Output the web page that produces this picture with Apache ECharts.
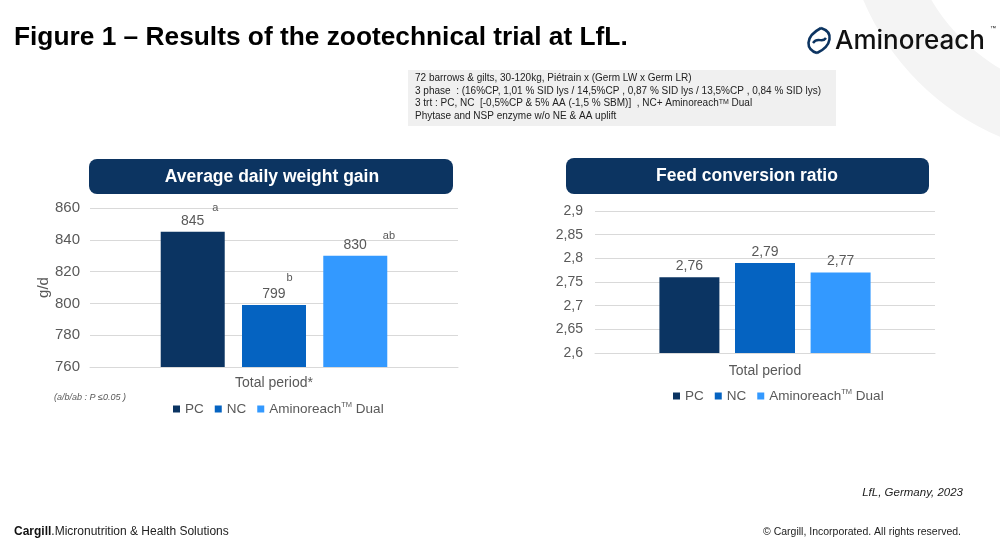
<!DOCTYPE html>
<html>
<head>
<meta charset="utf-8">
<script src="https://cdn.jsdelivr.net/npm/echarts@6/dist/echarts.min.js"></script>
<style>
html,body{margin:0;padding:0;background:#fff;}
#c{width:1000px;height:559px;}
</style>
</head>
<body>
<div id="c"></div>
<script>
// ---- data ----
const seriesNames = ['PC', 'NC', 'Aminoreach™ Dual'];
const adgCategories = ['Total period*'];
const adgValues = [845, 799, 830];
const adgLetters = ['a', 'b', 'ab'];
const adgTicks = { min: 760, max: 860, interval: 20 };
const fcrCategories = ['Total period'];
const fcrValues = [2.76, 2.79, 2.77];
const fcrTicks = { min: 2.6, max: 2.9, interval: 0.05 };
const infoLines = [
  '72 barrows & gilts, 30-120kg, Piétrain x (Germ LW x Germ LR)',
  '3 phase  : (16%CP, 1,01 % SID lys / 14,5%CP , 0,87 % SID lys / 13,5%CP , 0,84 % SID lys)',
  '3 trt : PC, NC  [-0,5%CP & 5% AA (-1,5 % SBM)]  , NC+ Aminoreach{sup|TM} Dual',
  'Phytase and NSP enzyme w/o NE & AA uplift'
];

// ---- styles ----
const colors = ['#0b3462', '#0563c1', '#3399ff'];
const banner = '#0c3461';
const grey = '#595959';
const FONT = '"Liberation Sans", Arial, sans-serif';
const letterGap = [8, 1, 16];
const letterRise = [14.5, 17.5, 10.5];
const letterW = [6, 6, 12];

const chart = echarts.init(document.getElementById('c'));
const comma = v => String(v).replace('.', ',');
const tmFmt = n => n.replace('™', '{sup|TM}');

const series = [];
seriesNames.forEach((name, i) => {
  series.push({
    type: 'bar', name, xAxisIndex: 0, yAxisIndex: 0,
    data: [adgValues[i]],
    barWidth: 64, barGap: '27%',
    itemStyle: { color: colors[i] },
    label: {
      show: true, position: 'top', distance: 4,
      offset: [(letterGap[i] + letterW[i]) / 2, 0],
      formatter: p => '{v|' + comma(p.value) + '}{s|' + adgLetters[i] + '}',
      rich: {
        v: { fontSize: 14, color: grey, fontFamily: FONT, verticalAlign: 'bottom', lineHeight: 16 },
        s: { fontSize: 11, color: grey, fontFamily: FONT, verticalAlign: 'bottom', padding: [0, 0, letterRise[i], letterGap[i]] }
      }
    }
  });
});
seriesNames.forEach((name, i) => {
  series.push({
    type: 'bar', name, xAxisIndex: 1, yAxisIndex: 1,
    data: [fcrValues[i]],
    barWidth: 60, barGap: '26%',
    itemStyle: { color: colors[i] },
    label: {
      show: true, position: 'top', distance: 4,
      formatter: p => comma(p.value),
      fontSize: 14, color: grey, fontFamily: FONT
    }
  });
});

const legendCommon = {
  data: seriesNames,
  itemWidth: 7, itemHeight: 7, itemGap: 11,
  icon: 'rect',
  formatter: tmFmt,
  textStyle: {
    fontSize: 13.5, color: grey, fontFamily: FONT,
    rich: { sup: { fontSize: 7.5, color: grey, fontFamily: FONT, verticalAlign: 'bottom', padding: [0, 0, 8, 0] } }
  },
  selectedMode: false
};

const option = {
  animation: false,
  textStyle: { fontFamily: FONT },
  color: colors,
  legend: [
    Object.assign({ left: 168, top: 396 }, legendCommon),
    Object.assign({ left: 668, top: 383 }, legendCommon)
  ],
  grid: [
    { left: 90, right: 542, top: 208, bottom: 192 },
    { left: 595, right: 65, top: 211, bottom: 206 }
  ],
  xAxis: [
    { type: 'category', gridIndex: 0, data: adgCategories,
      axisLine: { lineStyle: { color: '#d9d9d9' } }, axisTick: { show: false },
      axisLabel: { fontSize: 14, color: grey, margin: 9 } },
    { type: 'category', gridIndex: 1, data: fcrCategories,
      axisLine: { lineStyle: { color: '#d9d9d9' } }, axisTick: { show: false },
      axisLabel: { fontSize: 14, color: grey, margin: 11 } }
  ],
  yAxis: [
    { type: 'value', gridIndex: 0, min: adgTicks.min, max: adgTicks.max, interval: adgTicks.interval,
      name: 'g/d', nameLocation: 'middle', nameGap: 33, nameRotate: 90,
      nameTextStyle: { fontSize: 15, color: grey },
      axisLabel: { fontSize: 15, color: grey, margin: 10 },
      splitLine: { lineStyle: { color: '#d9d9d9' } } },
    { type: 'value', gridIndex: 1, min: fcrTicks.min, max: fcrTicks.max, interval: fcrTicks.interval,
      axisLabel: { fontSize: 14, color: grey, margin: 12, formatter: v => comma(+v.toFixed(2)) },
      splitLine: { lineStyle: { color: '#d9d9d9' } } }
  ],
  series,
  graphic: [
    // background arc
    { type: 'ring', z: -10, silent: true, shape: { cx: 1100, cy: -100, r: 257, r0: 196 }, style: { fill: '#f4f4f4' } },
    // main title
    { type: 'text', x: 14, y: 38, style: { text: 'Figure 1 – Results of the zootechnical trial at LfL.', fontSize: 26.3, fontWeight: 'bold', fill: '#000', fontFamily: FONT, verticalAlign: 'middle' } },
    // logo icon
    { type: 'bezierCurve', shape: { x1: 821, y1: 28, x2: 817, y2: 53, cpx1: 804, cpy1: 37, cpx2: 806, cpy2: 50 }, style: { stroke: '#0c3461', lineWidth: 2.6, fill: null } },
    { type: 'bezierCurve', shape: { x1: 821, y1: 28, x2: 817, y2: 53, cpx1: 834, cpy1: 32, cpx2: 832, cpy2: 46 }, style: { stroke: '#0c3461', lineWidth: 2.6, fill: null } },
    { type: 'bezierCurve', shape: { x1: 813, y1: 43, x2: 826, y2: 38, cpx1: 818, cpy1: 36, cpx2: 822, cpy2: 44 }, style: { stroke: '#0c3461', lineWidth: 2.4, fill: null } },
    { type: 'text', x: 835, y: 41, style: { text: 'Aminoreach', fontSize: 26, fontWeight: 500, fill: '#111', verticalAlign: 'middle', fontFamily: 'Inter, "Liberation Sans", sans-serif' } },
    { type: 'text', x: 990, y: 28, style: { text: '™', fontSize: 6, fill: '#111', verticalAlign: 'middle' } },
    // info box
    { type: 'rect', shape: { x: 408, y: 70, width: 428, height: 56 }, style: { fill: '#f0f0f0' } },
    { type: 'text', x: 415, y: 72, style: {
      text: infoLines.join('\n'), fontSize: 10, lineHeight: 12.6, fill: '#222', fontFamily: FONT,
      rich: { sup: { fontSize: 7, fill: '#222', verticalAlign: 'bottom', padding: [0, 0, 4, 0], lineHeight: 12.6 } } } },
    // banners
    { type: 'rect', shape: { x: 89, y: 159, width: 364, height: 35, r: 8 }, style: { fill: banner } },
    { type: 'text', x: 272, y: 177, style: { text: 'Average daily weight gain', fontSize: 17.5, fontWeight: 'bold', fill: '#fff', align: 'center', verticalAlign: 'middle', fontFamily: FONT } },
    { type: 'rect', shape: { x: 566, y: 158, width: 363, height: 36, r: 8 }, style: { fill: banner } },
    { type: 'text', x: 747, y: 176, style: { text: 'Feed conversion ratio', fontSize: 17.5, fontWeight: 'bold', fill: '#fff', align: 'center', verticalAlign: 'middle', fontFamily: FONT } },
    // note
    { type: 'text', x: 54, y: 397, style: { text: '(a/b/ab : P ≤0.05 )', fontSize: 9, fontStyle: 'italic', fill: grey, fontFamily: FONT, verticalAlign: 'middle' } },
    // footer
    { type: 'text', x: 963, y: 493, style: { text: 'LfL, Germany, 2023', fontSize: 11.5, fontStyle: 'italic', fill: '#222', align: 'right', verticalAlign: 'middle', fontFamily: FONT } },
    { type: 'text', x: 14, y: 532, style: { text: '{b|Cargill}.Micronutrition & Health Solutions', fontSize: 12, fill: '#222', verticalAlign: 'middle', fontFamily: FONT,
      rich: { b: { fontSize: 12, fontWeight: 'bold', fill: '#111', fontFamily: FONT } } } },
    { type: 'text', x: 961, y: 532, style: { text: '© Cargill, Incorporated. All rights reserved.', fontSize: 10.5, fill: '#222', align: 'right', verticalAlign: 'middle', fontFamily: FONT } }
  ]
};
chart.setOption(option);
</script>
</body>
</html>
